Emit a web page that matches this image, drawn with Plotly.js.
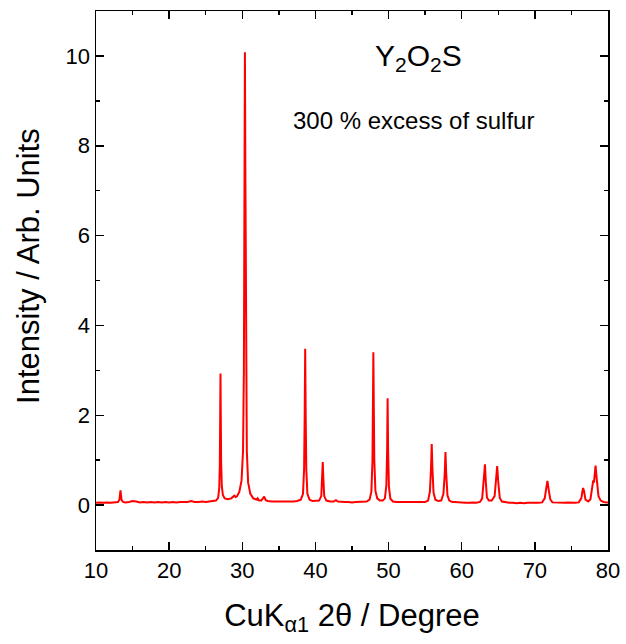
<!DOCTYPE html>
<html>
<head>
<meta charset="utf-8">
<script src="https://cdn.plot.ly/plotly-3.0.1.min.js"></script>
<style>html,body{margin:0;padding:0;background:#fff;}#chart{width:626px;height:644px;}</style>
</head>
<body>
<div id="chart"></div>
<script>
// 2-theta (degrees)
const twoTheta = [
  10.0,10.5,11.0,11.5,12.0,12.5,13.0,13.2,13.3,13.35,13.4,13.5,13.7,14.0,14.5,15.0,15.5,16.0,16.5,17.0,
  17.5,18.0,18.5,19.0,19.5,20.0,20.5,21.0,21.5,22.0,22.5,23.0,23.5,24.0,24.5,25.0,25.5,26.0,26.4,26.7,
  26.85,26.93,26.98,27.02,27.06,27.11,27.2,27.35,27.6,28.0,28.5,28.9,29.1,29.3,29.6,29.9,30.1,30.22,30.3,30.36,
  30.42,30.5,30.62,30.8,31.1,31.5,32.0,32.1,32.3,32.6,33.0,33.2,33.5,34.0,34.5,35.0,35.5,36.0,36.5,37.0,
  37.5,38.0,38.3,38.45,38.53,38.6,38.67,38.75,38.9,39.2,39.6,40.0,40.5,40.8,40.92,41.0,41.08,41.2,41.5,42.0,
  42.5,42.8,43.1,43.5,44.0,44.5,45.0,45.5,46.0,46.5,47.0,47.4,47.65,47.8,47.86,47.92,47.98,48.05,48.2,48.45,
  48.8,49.2,49.5,49.7,49.8,49.87,49.94,50.05,50.25,50.6,51.0,51.5,52.0,52.5,53.0,53.5,54.0,54.5,55.0,55.4,
  55.65,55.8,55.9,56.0,56.15,56.4,56.8,57.2,57.5,57.68,57.78,57.88,58.05,58.3,58.7,59.0,59.5,60.0,60.5,61.0,
  61.5,62.0,62.5,62.8,62.98,63.05,63.18,63.3,63.45,63.7,64.1,64.5,64.72,64.85,64.98,65.2,65.5,66.0,66.5,67.0,
  67.5,68.0,68.5,69.0,69.5,70.0,70.5,71.0,71.35,71.58,71.72,71.86,72.1,72.4,73.0,73.5,74.0,74.5,75.0,75.5,
  76.0,76.35,76.58,76.72,76.92,77.3,77.6,77.85,77.98,78.08,78.2,78.3,78.45,78.7,79.0,79.4,79.8,80.0
];
// Intensity (arb. units)
const intensity = [
  0.05,0.06,0.05,0.06,0.05,0.06,0.07,0.12,0.26,0.33,0.25,0.11,0.07,0.06,0.07,0.09,0.08,0.06,0.07,0.06,
  0.07,0.06,0.07,0.06,0.07,0.06,0.07,0.06,0.07,0.07,0.07,0.09,0.07,0.07,0.08,0.07,0.08,0.08,0.10,0.16,
  0.38,0.90,1.90,2.93,2.00,0.95,0.42,0.22,0.15,0.13,0.15,0.21,0.18,0.20,0.30,0.55,1.20,3.00,7.50,10.08,
  7.50,3.00,1.20,0.50,0.25,0.15,0.12,0.15,0.10,0.10,0.19,0.11,0.09,0.08,0.08,0.08,0.07,0.08,0.07,0.08,
  0.09,0.12,0.25,0.80,2.00,3.48,2.00,0.80,0.25,0.12,0.09,0.09,0.10,0.20,0.60,0.96,0.60,0.20,0.10,0.08,
  0.08,0.11,0.08,0.07,0.07,0.07,0.06,0.07,0.07,0.07,0.08,0.12,0.30,1.00,2.20,3.40,2.20,1.00,0.32,0.15,
  0.10,0.10,0.15,0.45,1.20,2.38,1.20,0.40,0.14,0.08,0.07,0.07,0.06,0.07,0.06,0.07,0.06,0.06,0.07,0.10,
  0.30,0.80,1.36,0.80,0.28,0.12,0.09,0.10,0.25,0.70,1.18,0.70,0.22,0.10,0.07,0.07,0.06,0.06,0.05,0.05,
  0.06,0.05,0.07,0.15,0.55,0.69,0.91,0.50,0.17,0.10,0.10,0.20,0.55,0.87,0.55,0.16,0.08,0.06,0.05,0.05,
  0.04,0.05,0.04,0.05,0.05,0.04,0.05,0.06,0.15,0.40,0.54,0.38,0.13,0.06,0.05,0.05,0.05,0.06,0.05,0.05,
  0.06,0.15,0.38,0.32,0.12,0.08,0.13,0.45,0.55,0.50,0.75,0.88,0.60,0.20,0.10,0.07,0.06,0.06
];

const xTickVals = [10,20,30,40,50,60,70,80];
const yTickVals = [0,2,4,6,8,10];

const FONT = 'Arial, "Liberation Sans", sans-serif';

const trace = {
  x: twoTheta, y: intensity, type: 'scatter', mode: 'lines',
  line: {color: '#ff0000', width: 2}, hoverinfo: 'skip', showlegend: false
};

const axisCommon = {
  showline: true, linecolor: '#000', linewidth: 1.5, mirror: 'allticks',
  ticks: 'inside', ticklen: 8, tickwidth: 1.5, tickcolor: '#000',
  showgrid: false, zeroline: false,
  tickfont: {family: FONT, size: 22, color: '#000'}
};

const layout = {
  width: 626, height: 644,
  margin: {l: 96, r: 18, t: 11, b: 94},
  paper_bgcolor: '#fff', plot_bgcolor: '#fff',
  font: {family: FONT, color: '#000'},
  xaxis: Object.assign({}, axisCommon, {
    range: [10, 80], tickmode: 'array', tickvals: xTickVals,
    minor: {dtick: 5, ticklen: 4, tickwidth: 1.5, tickcolor: '#000', ticks: 'inside'},
    title: {text: 'CuK<sub>α1</sub> 2θ / Degree', font: {family: FONT, size: 31, color: '#000'}, standoff: 22}
  }),
  yaxis: Object.assign({}, axisCommon, {
    range: [-1, 11], tickmode: 'array', tickvals: yTickVals,
    minor: {dtick: 1, ticklen: 4, tickwidth: 1.5, tickcolor: '#000', ticks: 'inside'},
    title: {text: ''}
  }),
  annotations: [
    {xref: 'paper', yref: 'paper', x: -0.131, y: 0.527, text: 'Intensity / Arb. Units', textangle: -90,
     showarrow: false, font: {family: FONT, size: 31, color: '#000'}, xanchor: 'center', yanchor: 'middle'},
    {xref: 'paper', yref: 'paper', x: 0.63, y: 0.914, text: 'Y<sub>2</sub>O<sub>2</sub>S',
     showarrow: false, font: {family: FONT, size: 30, color: '#000'}, xanchor: 'center', yanchor: 'middle'},
    {xref: 'paper', yref: 'paper', x: 0.62, y: 0.796, text: '300 % excess of sulfur',
     showarrow: false, font: {family: FONT, size: 24, color: '#000'}, xanchor: 'center', yanchor: 'middle'}
  ]
};

Plotly.newPlot('chart', [trace], layout, {displayModeBar: false, staticPlot: true});
</script>
</body>
</html>
